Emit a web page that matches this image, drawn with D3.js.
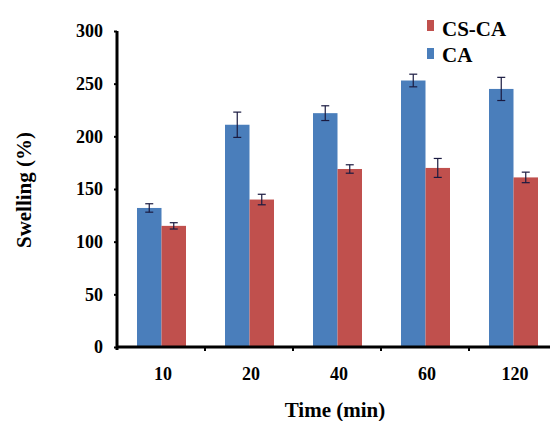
<!DOCTYPE html>
<html>
<head>
<meta charset="utf-8">
<script src="https://cdn.jsdelivr.net/npm/d3@7"></script>
<style>
  body { margin: 0; background: #fff; }
  text { font-family: "Liberation Serif", "Times New Roman", serif; font-weight: bold; }
</style>
</head>
<body>
<script>
// swelling data
var times = ['10', '20', '40', '60', '120']
var caVals = [132, 211, 222, 253, 245]
var caErr = [4, 12, 7, 6, 11]
var cscaVals = [115, 140, 169, 170, 161]
var cscaErr = [3, 5, 4, 9, 5]
var yTicks = [0, 50, 100, 150, 200, 250, 300]

var series = [
  {name: 'CA', vals: caVals, err: caErr, color: '#4a7ebb'},
  {name: 'CS-CA', vals: cscaVals, err: cscaErr, color: '#c0504d'}
]

var svg = d3.select('body').append('svg').attr('width', 550).attr('height', 421)

var x0 = 117, y0 = 347
var x = d3.scaleBand().domain(times).range([x0, x0 + 88 * 5])
var xs = d3.scaleBand().domain(['CA', 'CS-CA']).range([20, 69])
var y = d3.scaleLinear().domain([0, 300]).range([y0, 31])

// bars
series.forEach(s => {
  var g = svg.append('g')
  g.selectAll('rect')
    .data(s.vals)
    .enter().append('rect')
      .attr('x', (d, i) => x(times[i]) + xs(s.name))
      .attr('y', d => y(d))
      .attr('width', xs.bandwidth())
      .attr('height', d => y0 - y(d))
      .attr('fill', s.color)

  // error bars
  var eb = g.selectAll('g.eb')
    .data(s.vals)
    .enter().append('g')
      .attr('class', 'eb')
      .attr('transform', (d, i) => `translate(${x(times[i]) + xs(s.name) + xs.bandwidth() / 2},0)`)
  eb.append('line')
    .attr('y1', (d, i) => y(d + s.err[i])).attr('y2', (d, i) => y(d - s.err[i]))
    .attr('stroke', '#1a1a40').attr('stroke-width', 1.2)
  eb.append('line')
    .attr('x1', -4).attr('x2', 4)
    .attr('y1', (d, i) => y(d + s.err[i])).attr('y2', (d, i) => y(d + s.err[i]))
    .attr('stroke', '#1a1a40').attr('stroke-width', 1.2)
  eb.append('line')
    .attr('x1', -4).attr('x2', 4)
    .attr('y1', (d, i) => y(d - s.err[i])).attr('y2', (d, i) => y(d - s.err[i]))
    .attr('stroke', '#1a1a40').attr('stroke-width', 1.2)
})

// y axis
var yAxis = svg.append('g')
  .attr('transform', `translate(${x0},0)`)
  .call(d3.axisLeft(y).tickValues(yTicks).tickSize(3).tickPadding(11))
yAxis.select('.domain').attr('stroke', '#000').attr('stroke-width', 3).attr('d', `M0,${y(300)}V${y0 + 3}`)
yAxis.selectAll('.tick line').attr('stroke-width', 2)
yAxis.selectAll('text').attr('font-size', 18).attr('fill', '#000')

// x axis
var xAxis = svg.append('g')
  .attr('transform', `translate(0,${y0})`)
  .call(d3.axisBottom(x).tickSize(0))
xAxis.select('.domain').attr('stroke', '#000').attr('stroke-width', 3).attr('d', `M${x0},0H550`)
xAxis.selectAll('text').attr('font-size', 18).attr('fill', '#000')
  .attr('y', 33).attr('dy', 0).attr('dx', 2)
xAxis.selectAll('line.sep')
  .data(times.slice(1))
  .enter().append('line')
    .attr('class', 'sep')
    .attr('x1', d => x(d)).attr('x2', d => x(d))
    .attr('y1', 0).attr('y2', 4)
    .attr('stroke', '#000').attr('stroke-width', 2)

// axis titles
svg.append('text')
  .attr('x', 335).attr('y', 417)
  .attr('text-anchor', 'middle')
  .attr('font-size', 21)
  .text('Time (min)')

svg.append('text')
  .attr('transform', 'translate(31,190) rotate(-90)')
  .attr('text-anchor', 'middle')
  .attr('font-size', 21)
  .text('Swelling (%)')

// legend
var legend = svg.append('g').attr('transform', 'translate(427,20)')
var legItems = [series[1], series[0]]
legItems.forEach((s, i) => {
  legend.append('rect')
    .attr('x', 0).attr('y', i * 28)
    .attr('width', 7).attr('height', 11)
    .attr('fill', s.color)
  legend.append('text')
    .attr('x', 15).attr('y', i * 26 + 16)
    .attr('font-size', 21)
    .text(s.name)
})
</script>
</body>
</html>
